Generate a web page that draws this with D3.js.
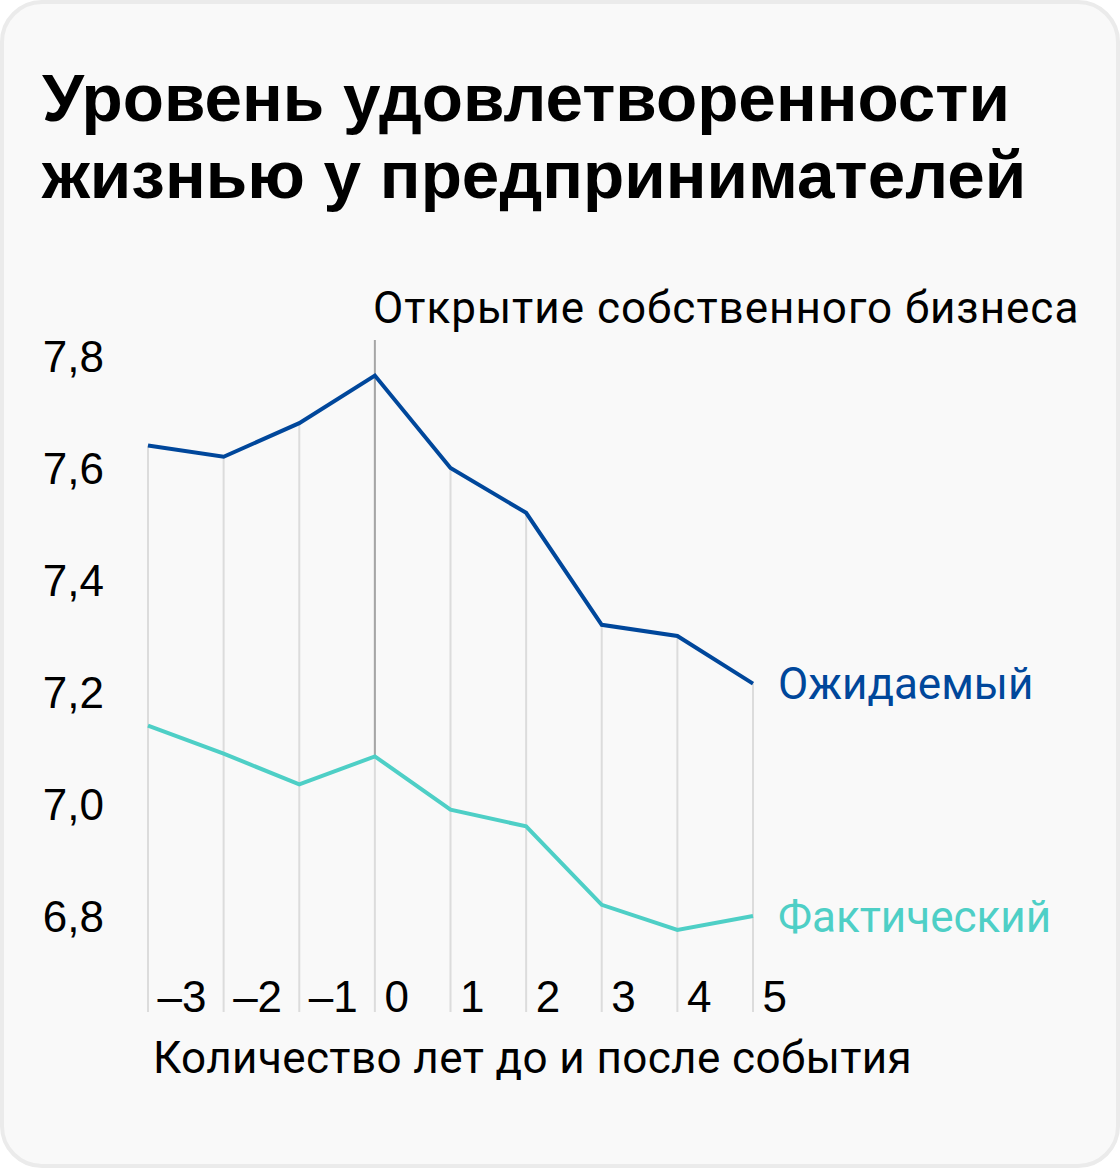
<!DOCTYPE html>
<html>
<head>
<meta charset="utf-8">
<script src="https://cdn.jsdelivr.net/npm/d3@7"></script>
<style>
  html, body { margin: 0; padding: 0; background: #ffffff; }
  svg text { font-family: Roboto, "Noto Sans", sans-serif; }
  svg .num, svg .title { font-family: "Liberation Sans", Arial, sans-serif; }
</style>
</head>
<body>
<div id="chart"></div>
<script>
// data
var years = [-3, -2, -1, 0, 1, 2, 3, 4, 5];
var yearLabels = ['–3', '–2', '–1', '0', '1', '2', '3', '4', '5'];
var expected = [7.64, 7.62, 7.68, 7.765, 7.60, 7.52, 7.32, 7.30, 7.215];
var actual = [7.14, 7.09, 7.035, 7.085, 6.99, 6.96, 6.82, 6.775, 6.80];
var yTicks = [6.8, 7.0, 7.2, 7.4, 7.6, 7.8];
var titleLines = ['Уровень удовлетворенности', 'жизнью у предпринимателей'];

var width = 1120,
    height = 1168;

var blue = '#00479b',
    teal = '#4ecfc6';

var svg = d3.select('#chart').append('svg')
    .attr('width', width)
    .attr('height', height);

// card
svg.append('rect')
    .attr('x', 2).attr('y', 2)
    .attr('width', width - 4).attr('height', height - 4)
    .attr('rx', 40)
    .attr('fill', '#f9f9f9')
    .attr('stroke', '#ebebeb')
    .attr('stroke-width', 4);

// title
svg.append('text')
    .attr('class', 'title')
    .attr('x', 42)
    .attr('font-size', 67.5)
    .attr('font-weight', 700)
    .attr('fill', '#000')
    .selectAll('tspan')
    .data(titleLines)
  .enter().append('tspan')
    .attr('x', 42)
    .attr('y', function(d, i) { return 121 + i * 77; })
    .text(function(d) { return d; });

var x = d3.scaleLinear().domain([-3, 5]).range([148, 753]);
var y = d3.scaleLinear().domain([6.8, 7.8]).range([916, 356]);
var bottom = 1012;

// gridlines up to the expected line
svg.append('g')
    .selectAll('line')
    .data(years)
  .enter().append('line')
    .attr('x1', function(d) { return x(d); })
    .attr('x2', function(d) { return x(d); })
    .attr('y1', function(d, i) { return y(expected[i]); })
    .attr('y2', bottom)
    .attr('stroke', '#dcdcdc')
    .attr('stroke-width', 2);

// event marker
svg.append('line')
    .attr('x1', x(0)).attr('x2', x(0))
    .attr('y1', 340)
    .attr('y2', y(actual[years.indexOf(0)]))
    .attr('stroke', '#a6a6a6')
    .attr('stroke-width', 2);

svg.append('text')
    .attr('x', 373)
    .attr('y', 323)
    .attr('font-size', 44)
    .attr('letter-spacing', 1)
    .attr('fill', '#000')
    .text('Открытие собственного бизнеса');

// y axis
var yAxis = svg.append('g')
    .attr('transform', 'translate(104,0)')
    .call(d3.axisLeft(y)
      .tickValues(yTicks)
      .tickSize(0)
      .tickPadding(0)
      .tickFormat(function(d) { return d3.format('.1f')(d).replace('.', ','); }));
yAxis.select('.domain').remove();
yAxis.selectAll('text')
    .attr('class', 'num')
    .attr('font-size', 44)
    .attr('fill', '#000')
    .attr('dy', '0.36em');

// x axis
var xAxis = svg.append('g')
    .attr('transform', 'translate(0,' + bottom + ')')
    .call(d3.axisBottom(x)
      .tickValues(years)
      .tickSize(0)
      .tickFormat(function(d, i) { return yearLabels[i]; }));
xAxis.select('.domain').remove();
xAxis.selectAll('text')
    .attr('class', 'num')
    .attr('font-size', 44)
    .attr('fill', '#000')
    .attr('text-anchor', 'start')
    .attr('x', 9)
    .attr('y', 0)
    .attr('dy', 0);

svg.append('text')
    .attr('x', 153)
    .attr('y', 1073)
    .attr('font-size', 44)
    .attr('letter-spacing', 0.4)
    .attr('fill', '#000')
    .text('Количество лет до и после события');

// lines
var line = d3.line()
    .x(function(d, i) { return x(years[i]); })
    .y(function(d) { return y(d); });

var series = [
  { name: 'Ожидаемый', values: expected, color: blue },
  { name: 'Фактический', values: actual, color: teal }
];

svg.selectAll('.series')
    .data(series)
  .enter().append('path')
    .attr('class', 'series')
    .attr('d', function(d) { return line(d.values); })
    .attr('fill', 'none')
    .attr('stroke', function(d) { return d.color; })
    .attr('stroke-width', 4);

svg.selectAll('.label')
    .data(series)
  .enter().append('text')
    .attr('class', 'label')
    .attr('x', x(5) + 25)
    .attr('y', function(d) { return y(d.values[d.values.length - 1]); })
    .attr('dy', '0.36em')
    .attr('font-size', 44)
    .attr('fill', function(d) { return d.color; })
    .text(function(d) { return d.name; });
</script>
</body>
</html>
